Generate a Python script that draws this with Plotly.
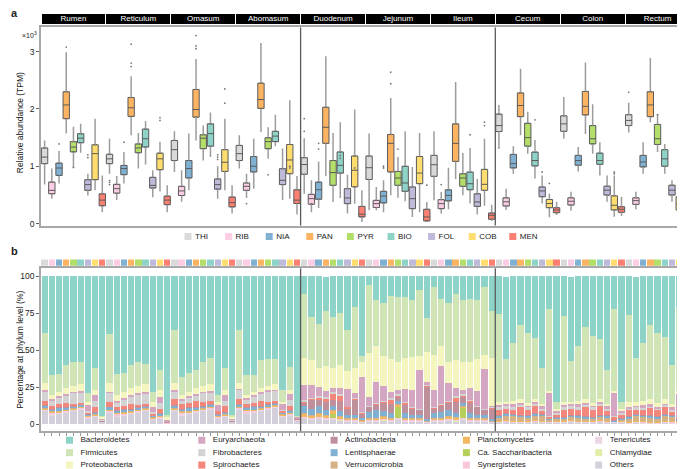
import plotly.graph_objects as go

FONT = "Liberation Sans, Arial, sans-serif"

organs = ["Rumen", "Reticulum", "Omasum", "Abomasum", "Duodenum",
          "Jejunum", "Ileum", "Cecum", "Colon", "Rectum"]
vitamins = ["THI", "RIB", "NIA", "PAN", "PYR", "BIO", "FOL", "COB", "MEN"]
vit_colors = ["#D9D9D9", "#FCCDE5", "#80B1D3", "#FDB462", "#B3DE69",
              "#8DD3C7", "#BEBADA", "#FFDD6E", "#FB8072"]

# ---- panel a: box statistics (x10^3 TPM), organ-major, THI..MEN per organ
box_lo = [0.68, 0.435, 0.70, 1.57, 0.975, 1.236, 0.49, 0.58, 0.20,
          0.87, 0.41, 0.70, 1.54, 0.96, 1.03, 0.46, 0.56, 0.20,
          0.90, 0.38, 0.58, 1.45, 1.10, 1.16, 0.435, 0.58, 0.174,
          0.96, 0.447, 0.61, 1.60, 1.13, 1.35, 0.41, 0.435, 0.16,
          0.52, 0.20, 0.27, 0.83, 0.377, 0.447, 0.174, 0.348, 0.03,
          0.232, 0.232, 0.20, 0.493, 0.453, 0.39, 0.116, 0.20, 0.03,
          0.406, 0.174, 0.25, 0.78, 0.493, 0.35, 0.157, 0.31, 0.046,
          1.30, 0.237, 0.87, 1.54, 1.22, 0.786, 0.352, 0.11, 0.15,
          1.48, 0.225, 0.91, 1.565, 1.22, 0.84, 0.38, 0.12, 0.133,
          1.59, 0.248, 0.87, 1.77, 1.25, 0.87, 0.38, 0.133, 0.15]
box_q1 = [1.045, 0.52, 0.84, 1.83, 1.25, 1.41, 0.58, 0.766, 0.31,
          1.045, 0.53, 0.853, 1.87, 1.236, 1.335, 0.62, 0.94, 0.33,
          1.10, 0.49, 0.795, 1.857, 1.306, 1.35, 0.60, 0.91, 0.29,
          1.10, 0.58, 0.90, 2.01, 1.306, 1.43, 0.68, 0.87, 0.35,
          0.86, 0.337, 0.424, 1.40, 0.667, 0.88, 0.348, 0.64, 0.116,
          0.77, 0.28, 0.36, 0.90, 0.667, 0.563, 0.26, 0.696, 0.046,
          0.824, 0.26, 0.395, 1.085, 0.65, 0.59, 0.30, 0.58, 0.075,
          1.606, 0.306, 0.97, 1.866, 1.35, 1.005, 0.468, 0.277, 0.19,
          1.61, 0.323, 1.017, 1.895, 1.39, 1.034, 0.497, 0.237, 0.196,
          1.71, 0.335, 0.988, 1.866, 1.38, 1.00, 0.497, 0.237, 0.208]
box_med = [1.16, 0.58, 0.97, 2.07, 1.335, 1.49, 0.68, 1.22, 0.41,
           1.13, 0.61, 0.96, 2.02, 1.32, 1.48, 0.667, 1.13, 0.41,
           1.29, 0.57, 0.96, 1.99, 1.49, 1.57, 0.68, 1.07, 0.366,
           1.22, 0.65, 1.00, 2.165, 1.43, 1.526, 0.755, 1.11, 0.41,
           1.03, 0.435, 0.59, 1.68, 0.89, 1.016, 0.447, 0.93, 0.163,
           0.975, 0.348, 0.48, 1.40, 0.795, 0.708, 0.435, 0.882, 0.116,
           1.027, 0.348, 0.493, 1.40, 0.795, 0.696, 0.377, 0.685, 0.145,
           1.71, 0.38, 1.046, 2.06, 1.50, 1.10, 0.57, 0.35, 0.237,
           1.74, 0.39, 1.10, 2.045, 1.48, 1.10, 0.583, 0.32, 0.25,
           1.80, 0.40, 1.075, 2.07, 1.48, 1.13, 0.583, 0.34, 0.254]
box_q3 = [1.32, 0.725, 1.056, 2.30, 1.43, 1.567, 0.766, 1.375, 0.52,
          1.21, 0.685, 1.015, 2.20, 1.39, 1.65, 0.807, 1.23, 0.48,
          1.45, 0.65, 1.10, 2.34, 1.55, 1.74, 0.78, 1.29, 0.464,
          1.364, 0.71, 1.17, 2.45, 1.497, 1.61, 0.958, 1.38, 0.59,
          1.15, 0.51, 0.725, 2.03, 1.10, 1.25, 0.61, 1.18, 0.30,
          1.18, 0.406, 0.563, 1.555, 0.91, 1.00, 0.64, 1.17, 0.25,
          1.19, 0.418, 0.59, 1.74, 0.87, 0.90, 0.52, 0.946, 0.186,
          1.91, 0.45, 1.207, 2.28, 1.75, 1.248, 0.64, 0.42, 0.277,
          1.88, 0.45, 1.19, 2.305, 1.71, 1.23, 0.653, 0.485, 0.295,
          1.90, 0.45, 1.19, 2.30, 1.73, 1.29, 0.67, 0.468, 0.295]
box_hi = [1.45, 0.96, 1.265, 2.99, 1.69, 1.74, 0.87, 1.83, 0.84,
          1.48, 0.83, 1.25, 2.57, 1.58, 1.79, 0.93, 1.43, 0.67,
          1.61, 0.93, 1.57, 2.87, 1.71, 1.94, 1.00, 1.83, 0.667,
          1.54, 0.87, 1.48, 3.15, 1.68, 1.90, 1.31, 2.15, 0.83,
          1.49, 0.755, 1.085, 2.92, 1.58, 1.77, 0.853, 1.99, 0.58,
          1.57, 0.64, 0.755, 2.19, 1.16, 1.61, 0.987, 1.58, 0.377,
          1.61, 0.55, 0.975, 2.47, 1.23, 1.32, 0.78, 1.48, 0.33,
          2.07, 0.61, 1.35, 2.70, 1.95, 1.46, 0.84, 0.526, 0.38,
          2.21, 0.555, 1.335, 2.81, 2.08, 1.42, 0.84, 0.84, 0.468,
          2.11, 0.555, 1.42, 2.89, 1.91, 1.39, 0.757, 0.583, 0.352]
out_idx = [2, 3, 6, 6, 4, 9, 9, 9, 12, 12, 12, 16, 16, 11,
           21, 21, 21, 25, 25, 24, 24, 24, 28, 31, 34, 34,
           36, 36, 37, 38, 38, 41, 41, 43, 48, 48, 47, 47, 49, 53,
           55, 61, 61, 59, 68, 70, 69, 79, 79, 81, 85]
out_val = [1.39, 3.08, 1.20, 1.15, 0.98, 0.75, 0.72, 0.68, 3.13, 2.80, 2.74, 1.85, 1.80, 1.42,
           3.28, 3.10, 3.05, 2.35, 2.10, 1.20, 1.16, 1.12, 0.35, 0.85, 1.00, 0.97,
           1.83, 1.61, 0.35, 1.40, 1.30, 1.19, 1.14, 0.97, 2.64, 2.44, 1.00, 0.97, 1.30, 0.67,
           0.68, 1.77, 1.71, 1.55, 1.81, 0.70, 0.90, 0.90, 0.87, 2.29, 1.90]

# ---- panel b: phylum composition (%), 90 bars (organ-major, THI..MEN)
phyla = ["Bacteroidetes", "Firmicutes", "Proteobacteria", "Euryarchaeota",
         "Fibrobacteres", "Spirochaetes", "Actinobacteria", "Lentisphaerae",
         "Verrucomicrobia", "Planctomycetes", "Ca. Saccharibacteria",
         "Synergistetes", "Tenericutes", "Chlamydiae", "Others"]
phy_colors = ["#8DD3C7", "#CFE5B6", "#F5F5C0", "#D5A6C1", "#D3D3D3",
              "#F4877B", "#BF8F9C", "#80B1D3", "#D4B286", "#F1B860",
              "#B5D15C", "#F8C8DA", "#EBD6E5", "#E4EDA8", "#D4D0DB"]

bacteroidetes = [38, 66.5, 66, 60, 58, 58, 79, 62, 94.5,
                 39, 66, 65, 60, 58, 59, 78, 63, 94,
                 36, 68, 65, 63, 58, 55, 80, 62, 94,
                 36, 67, 67, 56.5, 56, 56, 77, 61, 94.5,
                 12, 28, 32.5, 23, 27.5, 25, 36, 21, 54,
                 6, 16, 18, 13, 14, 14, 16, 9, 28,
                 7, 15, 18, 12, 16, 15, 16, 7, 23.5,
                 25.5, 55.5, 45, 33, 38, 42, 62, 22, 85,
                 27, 57, 47, 34, 40, 42.5, 63, 22, 85,
                 26, 54.5, 45, 33, 38, 41, 60, 21, 82]
firmicutes = [34, 13.5, 12, 15.5, 16, 14.5, 6, 14.5, 0.5,
              33, 14, 13, 15.5, 16, 13.5, 7, 13.5, 1,
              36, 12, 13, 12.5, 16, 17.5, 5, 14.5, 1,
              36, 13, 11, 19, 18, 16.5, 8, 15.5, 0.5,
              43, 29, 29.5, 37, 34.5, 35, 28, 41, 4,
              46, 31, 36, 43, 44, 41, 38.5, 45, 23,
              46, 32, 40, 45, 42, 43, 40, 46, 31.5,
              59.5, 29, 39, 50, 47.5, 41, 24, 55.5, 4.5,
              58, 27.5, 37, 49, 45.5, 40.5, 23, 55.5, 4.5,
              59, 30, 39, 50, 47.5, 42, 26, 56.5, 7.5]
proteobacteria = [5, 3, 3, 4, 4, 5, 2, 4, 1,
                  6, 4, 4, 5, 5, 6, 3, 5, 2,
                  5, 3, 3, 4, 4, 5, 2, 4, 1,
                  4, 2, 2, 3, 3, 4, 1, 3, 0,
                  18.5, 16.5, 13, 17, 13.5, 16, 12, 17, 10,
                  29.5, 24.5, 20.5, 22, 18.5, 21, 22, 9.5, 20.5,
                  23.5, 13.5, 14, 19, 18.5, 17.5, 21.5, 9.5, 32.5,
                  2, 1.5, 2, 2.5, 2, 2, 1.5, 1, 1.5,
                  2, 1.5, 2, 2.5, 2, 2, 1.5, 1, 1.5,
                  3, 2.5, 3, 3.5, 3, 3, 2.5, 2, 2.5]
euryarchaeota = [1, 1.5, 1.5, 1, 1, 1, 4, 4, 1,
                 1, 1.5, 1.5, 1, 1, 1, 4, 4, 1,
                 1, 1.5, 1.5, 1, 1, 1, 4, 4, 1,
                 1, 1.5, 1.5, 1, 1, 1, 4, 4, 1,
                 10, 9, 6, 4, 3, 4, 12, 3, 24,
                 6, 14, 10, 4, 3, 9, 12, 26, 2,
                 12, 26, 12, 5, 3, 8, 10, 27, 1,
                 1.5, 1, 2, 1.5, 1, 1, 2, 16, 1,
                 1.5, 1, 2, 1.5, 1, 1, 2, 16, 1,
                 1.5, 1, 2, 1.5, 1, 1, 2, 16, 1]
fibrobacteres = [6, 3, 4, 5, 7, 7, 1, 4, 0.5,
                 6, 3, 4, 5, 7, 7, 1, 4, 0.5,
                 5, 2, 3, 4, 6, 6, 0, 3, 0.5,
                 6, 3, 4, 5, 7, 7, 1, 4, 0.5,
                 1, 0.5, 1, 1.5, 1, 1, 0.5, 0.5, 0.5,
                 0.5, 0.5, 0.5, 1.5, 1, 0.5, 0.5, 0.5, 0.5,
                 0.5, 0.5, 0.5, 1.5, 1, 0.5, 0.5, 0.5, 0.5,
                 1.5, 2, 2, 1.5, 1.5, 1.5, 1.5, 0.5, 1.5,
                 1.5, 2, 2, 1.5, 1.5, 1.5, 1.5, 0.5, 1.5,
                 1, 1.5, 1.5, 1, 1, 1, 1, 0, 1]
spirochaetes = [3, 2, 2, 3, 1.5, 1, 1, 3, 0,
                3, 2, 2, 3, 1.5, 1, 1, 3, 0,
                4, 3, 3, 4, 2.5, 2, 2, 4, 0,
                3, 2, 2, 3, 1.5, 1, 1, 3, 0,
                1, 1, 1.5, 2, 4, 3.5, 1, 1, 0.5,
                0.5, 0.5, 1, 3, 1, 1, 0.5, 0.5, 0.5,
                0.5, 0.5, 1, 3, 1, 1.5, 0.5, 0.5, 0.5,
                4, 3, 3, 5, 4, 5, 2, 1, 1.5,
                5, 4, 4, 6, 5, 6, 3, 2, 2.5,
                4, 3, 3, 5, 4, 5, 2, 1, 1.5]
actinobacteria = [0.5, 0.5, 0.5, 0.5, 0.5, 0.5, 0.5, 0.5, 0.5,
                  0.5, 0.5, 0.5, 0.5, 0.5, 0.5, 0.5, 0.5, 0.5,
                  0.5, 0.5, 0.5, 0.5, 0.5, 0.5, 0.5, 0.5, 0.5,
                  0.5, 0.5, 0.5, 0.5, 0.5, 0.5, 0.5, 0.5, 0.5,
                  2, 6, 4, 5, 4, 7, 4, 10, 3,
                  3, 4, 5, 6, 3, 6, 4, 3, 22,
                  3, 4, 5, 7, 4, 7, 5, 3, 7,
                  0.5, 0.5, 0.5, 0.5, 0.5, 0.5, 0.5, 0.5, 0.5,
                  0.5, 0.5, 0.5, 0.5, 0.5, 0.5, 0.5, 0.5, 0.5,
                  0.5, 0.5, 0.5, 0.5, 0.5, 0.5, 0.5, 0.5, 0.5]
lentisphaerae = [1.5, 1, 2, 1, 1, 1, 0.5, 1, 0,
                 1.5, 1, 2, 1, 1, 1, 0.5, 1, 0,
                 1.5, 1, 2, 1, 1, 1, 0.5, 1, 0,
                 1.5, 1, 2, 1, 1, 1, 0.5, 1, 0,
                 5, 4, 5, 4, 3, 3, 2, 2, 1,
                 4, 5, 4, 3, 2, 3, 2, 2, 1,
                 3, 4, 4, 3, 2, 3, 2, 2, 1,
                 1, 1, 1, 1, 1, 1, 1, 0.5, 0.5,
                 1, 1, 1, 1, 1, 1, 1, 0.5, 0.5,
                 1, 1, 1, 1, 1, 1, 1, 0.5, 0.5]
verrucomicrobia = [0.5, 0.5, 0.5, 0.5, 0.5, 0.5, 0.5, 0.5, 0,
                   0.5, 0.5, 0.5, 0.5, 0.5, 0.5, 0.5, 0.5, 0,
                   0.5, 0.5, 0.5, 0.5, 0.5, 0.5, 0.5, 0.5, 0,
                   0.5, 0.5, 0.5, 0.5, 0.5, 0.5, 0.5, 0.5, 0,
                   0.5, 0.5, 0.5, 0.5, 0.5, 0.5, 0.5, 0.5, 0.5,
                   0.5, 0.5, 0.5, 0.5, 0.5, 0.5, 0.5, 0.5, 0.5,
                   0.5, 0.5, 0.5, 0.5, 0.5, 0.5, 0.5, 0.5, 0.5,
                   2.5, 3, 3, 3, 2.5, 3, 3, 1, 1.5,
                   1.5, 2, 2, 2, 1.5, 2, 2, 0, 0.5,
                   2.5, 3, 3, 3, 2.5, 3, 3, 1, 1.5]
planctomycetes = [0.5, 0.5, 0.5, 0.5, 0.5, 0.5, 0.5, 0.5, 0,
                  0.5, 0.5, 0.5, 0.5, 0.5, 0.5, 0.5, 0.5, 0,
                  0.5, 0.5, 0.5, 0.5, 0.5, 0.5, 0.5, 0.5, 0,
                  0.5, 0.5, 0.5, 0.5, 0.5, 0.5, 0.5, 0.5, 0,
                  2, 1.5, 2, 1.5, 2, 1.5, 1, 1, 0.5,
                  1, 1, 1, 1, 1, 1, 1, 1, 0.5,
                  1, 1, 1.5, 1, 1, 1, 1, 1, 0.5,
                  0.5, 0.5, 0.5, 0.5, 0.5, 0.5, 0.5, 0.5, 0.5,
                  0.5, 0.5, 0.5, 0.5, 0.5, 0.5, 0.5, 0.5, 0.5,
                  0.5, 0.5, 0.5, 0.5, 0.5, 0.5, 0.5, 0.5, 0.5]
saccharibacteria = [0, 0, 0, 0, 0, 0, 0, 0, 0,
                    0, 0, 0, 0, 0, 0, 0, 0, 0,
                    0, 0, 0, 0, 0, 0, 0, 0, 0,
                    0, 0, 0, 0, 0, 0, 0, 0, 0,
                    0, 0, 0, 0, 3, 0, 0, 0, 0,
                    0, 0, 0, 0, 8, 0, 0, 0, 0,
                    0, 0, 0, 0, 7, 0, 0, 0, 0,
                    0, 0, 0, 0, 0, 0, 0, 0, 0,
                    0, 0, 0, 0, 0, 0, 0, 0, 0,
                    0, 0, 0, 0, 0, 0, 0, 0, 0]
synergistetes = [0.5, 1, 0.5, 0.5, 0.5, 0.5, 0.5, 0.5, 0.5,
                 0.5, 1, 0.5, 0.5, 0.5, 0.5, 0.5, 0.5, 0.5,
                 0.5, 1, 0.5, 0.5, 0.5, 0.5, 0.5, 0.5, 0.5,
                 0.5, 1, 0.5, 0.5, 0.5, 0.5, 0.5, 0.5, 0.5,
                 0.5, 0.5, 0.5, 0.5, 0.5, 0.5, 0.5, 0.5, 0.5,
                 0.5, 0.5, 0.5, 0.5, 0.5, 0.5, 0.5, 0.5, 0,
                 0.5, 0.5, 0.5, 0.5, 0.5, 0.5, 0.5, 0.5, 0,
                 0, 0.5, 0.5, 0, 0, 0.5, 0.5, 0, 0.5,
                 0, 0.5, 0.5, 0, 0, 0.5, 0.5, 0, 0.5,
                 0, 0.5, 0.5, 0, 0, 0.5, 0.5, 0, 0.5]
tenericutes = [0.5, 1, 0.5, 0.5, 0.5, 0.5, 0.5, 0.5, 0,
               0.5, 1, 0.5, 0.5, 0.5, 0.5, 0.5, 0.5, 0,
               0.5, 1, 0.5, 0.5, 0.5, 0.5, 0.5, 0.5, 0,
               0.5, 1, 0.5, 0.5, 0.5, 0.5, 0.5, 0.5, 0,
               0.5, 0.5, 0.5, 0.5, 0.5, 0.5, 0.5, 0.5, 0.5,
               0.5, 0.5, 0.5, 0.5, 0.5, 0.5, 0.5, 0.5, 0.5,
               0.5, 0.5, 0.5, 0.5, 0.5, 0.5, 0.5, 0.5, 0.5,
               0.5, 0.5, 0.5, 0.5, 0.5, 0.5, 0.5, 0.5, 0.5,
               0.5, 0.5, 0.5, 0.5, 0.5, 0.5, 0.5, 0.5, 0.5,
               0.5, 0.5, 0.5, 0.5, 0.5, 0.5, 0.5, 0.5, 0.5]
chlamydiae = [0, 0, 0, 0, 0, 0, 0, 0, 0,
              0, 0, 0, 0, 0, 0, 0, 0, 0,
              0, 0, 0, 0, 0, 0, 0, 0, 0,
              0, 0, 0, 0, 0, 0, 0, 0, 0,
              0, 0.3, 0, 0, 0, 0.3, 0, 0, 0,
              0, 0, 0.3, 0, 0, 0, 0, 0, 0,
              0, 0, 0, 0.3, 0, 0, 0, 0, 0,
              0, 0, 0, 0, 0, 0, 0, 0, 0,
              0, 0, 0, 0, 0, 0, 0, 0, 0,
              0, 0, 0, 0, 0, 0, 0, 0, 0]
others = [9, 6, 7, 8, 9, 10, 4, 5, 1.5,
          8, 5, 6, 7, 8, 9, 3, 4, 0.5,
          9, 6, 7, 8, 9, 10, 4, 5, 1.5,
          10, 7, 8, 9, 10, 11, 5, 6, 2.5,
          4, 3, 4, 3, 3, 2.5, 2, 2, 1,
          2, 2, 2.5, 2, 3, 2, 2, 2, 1,
          2, 2, 2.5, 2, 3, 2, 2, 2, 1,
          1, 1.5, 1, 1, 1, 1.5, 1, 1, 1,
          1, 1.5, 1, 1, 1, 1.5, 1, 1, 1,
          0.5, 1, 0.5, 0.5, 0.5, 1, 0.5, 0.5, 0.5]

phy_values = [bacteroidetes, firmicutes, proteobacteria, euryarchaeota,
              fibrobacteres, spirochaetes, actinobacteria, lentisphaerae,
              verrucomicrobia, planctomycetes, saccharibacteria,
              synergistetes, tenericutes, chlamydiae, others]

# ---------------------------------------------------------------- figure
nv = len(vitamins)
npos = len(organs) * nv
positions = list(range(npos))
W, H = 685, 469

fig = go.Figure()

# panel a whiskers (grey), drawn from the box statistics
wx, wy = [], []
for i in positions:
    wx += [i, i, None, i, i, None]
    wy += [box_lo[i], box_q1[i], None, box_q3[i], box_hi[i], None]
fig.add_trace(go.Scatter(x=wx, y=wy, mode="lines", xaxis="x", yaxis="y",
                         line=dict(color="#9C9C9C", width=1.5),
                         hoverinfo="skip", showlegend=False))

# panel a boxes
for v, name in enumerate(vitamins):
    idx = [o * nv + v for o in range(len(organs))]
    fig.add_trace(go.Box(
        x=idx, q1=[box_q1[i] for i in idx], median=[box_med[i] for i in idx],
        q3=[box_q3[i] for i in idx], lowerfence=[box_q1[i] for i in idx],
        upperfence=[box_q3[i] for i in idx], name=name, width=0.88,
        fillcolor=vit_colors[v], line=dict(color="#5A5A5A", width=1),
        boxpoints=False, xaxis="x", yaxis="y", showlegend=False,
        hoverinfo="skip"))

fig.add_trace(go.Scatter(x=out_idx, y=out_val, mode="markers", xaxis="x", yaxis="y",
                         marker=dict(size=1.8, color="#777777"),
                         hoverinfo="skip", showlegend=False))

# organ header strips
centers = [o * nv + (nv - 1) / 2 for o in range(len(organs))]
fig.add_trace(go.Bar(x=centers, y=[1] * len(organs), width=nv - 0.14,
                     marker=dict(color="black", line=dict(width=0)),
                     xaxis="x", yaxis="y3", showlegend=False, hoverinfo="skip"))
fig.add_trace(go.Scatter(x=centers, y=[0.5] * len(organs), text=organs, mode="text",
                         textfont=dict(color="#FFFFFF", size=8, family=FONT),
                         xaxis="x", yaxis="y3", showlegend=False, hoverinfo="skip",
                         cliponaxis=False))

# panel b vitamin colour strip
fig.add_trace(go.Bar(x=positions, y=[1] * npos, width=0.88,
                     marker=dict(color=[vit_colors[i % nv] for i in positions],
                                 line=dict(width=0)),
                     xaxis="x2", yaxis="y4", showlegend=False, hoverinfo="skip"))

# panel b stacked bars (bottom of stack = last phylum)
for name, col, vals in reversed(list(zip(phyla, phy_colors, phy_values))):
    fig.add_trace(go.Bar(x=positions, y=vals, name=name, width=0.86,
                         marker=dict(color=col, line=dict(width=0)),
                         xaxis="x2", yaxis="y2", showlegend=False))

# custom legends on an overlay axis measured in pixels
lx = [180 + 40.6 * i for i in range(nv)]
fig.add_trace(go.Scatter(x=lx, y=[230] * nv, mode="markers", xaxis="x5", yaxis="y5",
                         marker=dict(symbol="square", size=7, color=vit_colors),
                         hoverinfo="skip", showlegend=False, cliponaxis=False))
fig.add_trace(go.Scatter(x=[x + 7 for x in lx], y=[230] * nv, mode="text", text=vitamins,
                         textposition="middle right", xaxis="x5", yaxis="y5",
                         textfont=dict(size=8, color="#222222", family=FONT),
                         hoverinfo="skip", showlegend=False, cliponaxis=False))
px_ = [61.5 + 132.3 * (i // 3) for i in range(len(phyla))]
py_ = [435 + 12.5 * (i % 3) for i in range(len(phyla))]
fig.add_trace(go.Scatter(x=px_, y=py_, mode="markers", xaxis="x5", yaxis="y5",
                         marker=dict(symbol="square", size=7, color=phy_colors),
                         hoverinfo="skip", showlegend=False, cliponaxis=False))
fig.add_trace(go.Scatter(x=[x + 11 for x in px_], y=py_, mode="text", text=phyla,
                         textposition="middle right", xaxis="x5", yaxis="y5",
                         textfont=dict(size=8, color="#222222", family=FONT),
                         hoverinfo="skip", showlegend=False, cliponaxis=False))

xdom = [33 / W, 682 / W]
frame = dict(showline=True, mirror=True, linecolor="#A8A8A8", linewidth=1.5,
             showgrid=False, zeroline=False)
tickf = dict(size=8.5, color="#222222", family=FONT)

fig.update_layout(
    width=W, height=H, margin=dict(l=0, r=0, t=0, b=0),
    paper_bgcolor="white", plot_bgcolor="rgba(0,0,0,0)",
    barmode="stack", boxmode="overlay", font=dict(family=FONT, color="#222222"),
    xaxis=dict(domain=xdom, range=[-0.5, npos - 0.5], anchor="y",
               showticklabels=False, ticks="", **frame),
    yaxis=dict(domain=[1 - 219 / H, 1 - 19.5 / H], range=[-0.035, 3.423], anchor="x",
               tickvals=[0, 1, 2, 3], ticks="outside", ticklen=3, tickcolor="#666",
               tickfont=tickf, **frame),
    yaxis3=dict(domain=[1 - 16.5 / H, 1 - 6 / H], range=[0, 1], anchor="x",
                visible=False),
    xaxis2=dict(domain=xdom, range=[-0.5, npos - 0.5], anchor="y2",
                tickvals=positions, showticklabels=False, ticks="outside",
                ticklen=3, tickwidth=0.8, tickcolor="#999", **frame),
    yaxis2=dict(domain=[1 - 426 / H, 1 - 262 / H], range=[-4.7, 105.4], anchor="x2",
                tickvals=[0, 25, 50, 75, 100], ticks="outside", ticklen=3,
                tickcolor="#666", tickfont=tickf, **frame),
    yaxis4=dict(domain=[1 - 259.3 / H, 1 - 253 / H], range=[0, 1], anchor="x2",
                visible=False),
    xaxis5=dict(domain=[0, 1], range=[0, W], anchor="y5", visible=False),
    yaxis5=dict(domain=[0, 1], range=[H, 0], anchor="x5", visible=False),
)

for xr, yr in (("x", "y domain"), ("x2", "y2 domain")):
    for b in (4 * nv - 0.5, 7 * nv - 0.5):
        fig.add_shape(type="line", xref=xr, yref=yr, x0=b, x1=b, y0=0, y1=1,
                      line=dict(color="#5A5A5A", width=1.3))

ann = [
    dict(text="<b>a</b>", x=1 / W, y=1 - 5 / H, xanchor="left", font=dict(size=11)),
    dict(text="<b>b</b>", x=1 / W, y=1 - 245 / H, xanchor="left", font=dict(size=11)),
    dict(text="×10<sup>3</sup>", x=31 / W, y=1 - 27 / H, xanchor="right",
         font=dict(size=7)),
    dict(text="Relative abundance (TPM)", x=12 / W, y=1 - 116 / H, xanchor="center",
         textangle=-90, font=dict(size=8.5)),
    dict(text="Percentage at phylum level (%)", x=12 / W, y=1 - 344 / H,
         xanchor="center", textangle=-90, font=dict(size=8.5)),
]
for a in ann:
    fig.add_annotation(xref="paper", yref="paper", showarrow=False, yanchor="middle",
                       **a)

fig.write_html("out.html")
